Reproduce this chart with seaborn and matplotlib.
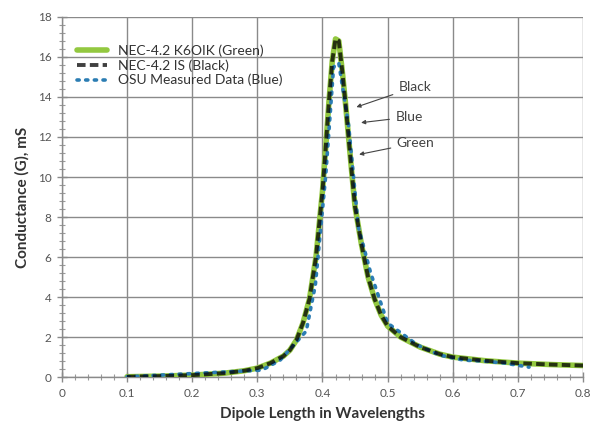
import matplotlib
matplotlib.use("Agg")
import matplotlib.pyplot as plt
from matplotlib.ticker import MultipleLocator, FuncFormatter
import pandas as pd
import seaborn as sns

# NEC model curves (dipole length in wavelengths vs conductance in mS)
model_x = [0.10, 0.15, 0.20, 0.25, 0.28, 0.30, 0.32, 0.34, 0.35, 0.36, 0.37, 0.38,
           0.39, 0.40, 0.405, 0.41, 0.415, 0.42, 0.425, 0.43, 0.435, 0.44, 0.445,
           0.45, 0.46, 0.47, 0.48, 0.49, 0.50, 0.52, 0.55, 0.58, 0.60, 0.65, 0.70,
           0.75, 0.80]
nec_k6oik = [0.02, 0.05, 0.10, 0.20, 0.32, 0.45, 0.70, 1.05, 1.35, 1.85, 2.70, 3.90,
             6.00, 9.30, 11.5, 13.8, 15.8, 16.9, 16.8, 15.4, 13.8, 12.0, 10.2,
             8.5, 6.6, 5.0, 3.9, 3.1, 2.55, 2.00, 1.50, 1.15, 1.00, 0.82, 0.70,
             0.63, 0.58]
nec_is = [0.02, 0.05, 0.10, 0.20, 0.32, 0.45, 0.70, 1.05, 1.35, 1.85, 2.70, 3.90,
          6.00, 9.30, 11.5, 13.8, 15.8, 16.9, 16.8, 15.4, 13.8, 12.0, 10.2,
          8.5, 6.6, 5.0, 3.9, 3.1, 2.55, 2.00, 1.50, 1.15, 1.00, 0.82, 0.70,
          0.63, 0.58]

# OSU measured points
osu_x = [0.10, 0.307, 0.335, 0.375, 0.389, 0.405, 0.417, 0.425, 0.44, 0.455, 0.474,
         0.50, 0.546, 0.58, 0.617, 0.648, 0.68, 0.717]
osu_g = [0.02, 0.35, 0.85, 2.3, 4.6, 10.1, 15.5, 15.7, 12.6, 7.5, 5.2,
         2.7, 1.6, 1.1, 0.85, 0.8, 0.7, 0.5]

x_ticks = [0, 0.1, 0.2, 0.3, 0.4, 0.5, 0.6, 0.7, 0.8]
y_ticks = [0, 2, 4, 6, 8, 10, 12, 14, 16, 18]

labels = ["NEC-4.2 K6OIK (Green)", "NEC-4.2 IS (Black)", "OSU Measured Data (Blue)"]

green = "#93c840"
blue = "#2b7db3"

sns.set_theme(style="whitegrid")
plt.rcParams["font.family"] = ["Lato", "DejaVu Sans"]

fig, ax = plt.subplots(figsize=(5.95, 4.34), dpi=100)
fig.subplots_adjust(left=0.104, right=0.98, bottom=0.131, top=0.961)

df_model = pd.DataFrame({"x": model_x, "k6oik": nec_k6oik, "is": nec_is})
df_osu = pd.DataFrame({"x": osu_x, "g": osu_g})

sns.lineplot(data=df_model, x="x", y="k6oik", ax=ax, color=green, lw=4.0,
             label=labels[0], zorder=3)
sns.lineplot(data=df_osu, x="x", y="g", ax=ax, color=blue, lw=2.6,
             linestyle=(0, (0.6, 1.8)), dash_capstyle="round", label=labels[2],
             zorder=4)
sns.lineplot(data=df_model, x="x", y="is", ax=ax, color="black", alpha=0.75,
             lw=2.8, linestyle=(0, (2.2, 1.1)), label=labels[1], zorder=5)

ax.set_xlim(0, 0.8)
ax.set_ylim(0, 18)
ax.set_xticks(x_ticks)
ax.set_yticks(y_ticks)
ax.xaxis.set_minor_locator(MultipleLocator(0.02))
ax.yaxis.set_minor_locator(MultipleLocator(0.4))
ax.xaxis.set_major_formatter(FuncFormatter(lambda v, p: f"{v:g}"))
ax.yaxis.set_major_formatter(FuncFormatter(lambda v, p: f"{v:g}"))

ax.grid(True, which="major", color="#8a8a8a", lw=1.0)
ax.grid(False, which="minor")
for side in ["top", "right"]:
    ax.spines[side].set_visible(False)
for side in ["left", "bottom"]:
    ax.spines[side].set_color("#8a8a8a")
    ax.spines[side].set_linewidth(1.0)
ax.tick_params(which="major", direction="inout", length=7, width=1,
               color="#8a8a8a", labelsize=8.5, labelcolor="#555555",
               left=True, bottom=True, pad=4)
ax.tick_params(which="minor", direction="inout", length=4, width=0.8,
               color="#9a9a9a", left=True, bottom=True)

ax.set_xlabel("Dipole Length in Wavelengths", fontsize=11, fontweight="bold",
              color="#333333", labelpad=6)
ax.set_ylabel("Conductance (G), mS", fontsize=11, fontweight="bold",
              color="#333333", labelpad=6)

# legend in drawing order: green, black, blue
handles, texts = ax.get_legend_handles_labels()
order = [0, 2, 1]
ax.legend([handles[i] for i in order], [texts[i] for i in order],
          loc="upper left", bbox_to_anchor=(0.01, 0.95), frameon=False,
          fontsize=10, handlelength=2.2, labelspacing=0.15, borderaxespad=0.3,
          labelcolor="#333333")

arrow = dict(arrowstyle="-|>", color="#444444", lw=0.8, mutation_scale=6)
ax.annotate("Black", xy=(0.448, 13.45), xytext=(0.517, 14.5), fontsize=10,
            color="#444444", va="center", arrowprops=arrow)
ax.annotate("Blue", xy=(0.455, 12.7), xytext=(0.512, 13.0), fontsize=10,
            color="#444444", va="center", arrowprops=arrow)
ax.annotate("Green", xy=(0.452, 11.1), xytext=(0.514, 11.7), fontsize=10,
            color="#444444", va="center", arrowprops=arrow)

fig.savefig("out.png", dpi=100)
